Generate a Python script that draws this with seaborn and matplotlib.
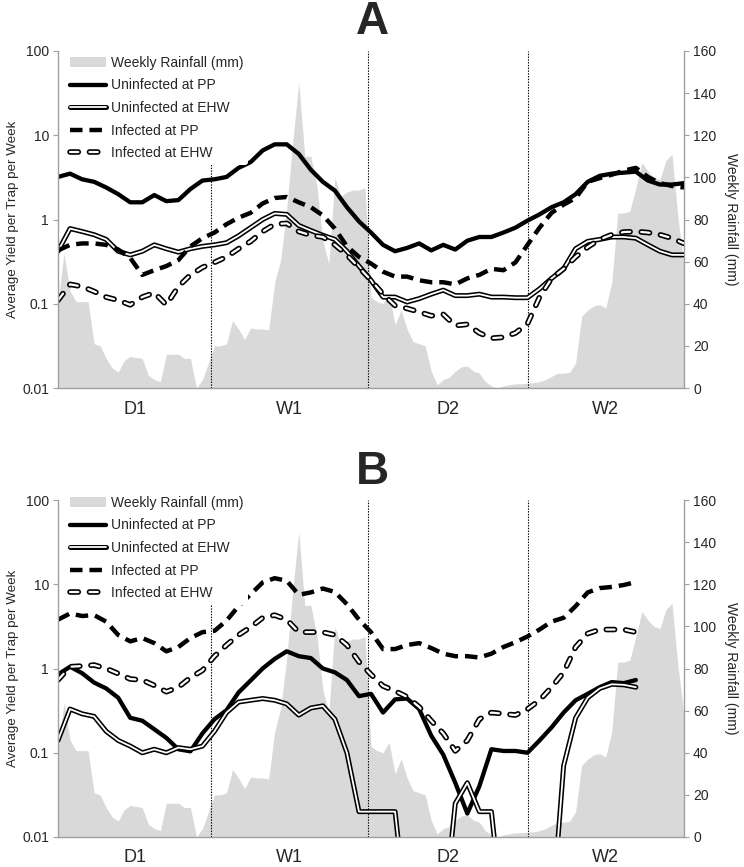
import numpy as np
import pandas as pd
import matplotlib
matplotlib.use("Agg")
import matplotlib.pyplot as plt
import matplotlib.patches as mpatches
from matplotlib.lines import Line2D
from matplotlib.ticker import NullLocator
import seaborn as sns

# weekly rainfall (mm), weeks 0..104
rain_mm = [41, 64, 46, 41, 41, 41, 21, 20, 14, 9.5,
           7.6, 13, 15, 14.5, 14, 6, 4, 3, 16, 16,
           16, 14, 14, 0, 4, 12, 20, 20, 21, 32,
           28, 23, 28.5, 28, 28, 27.6, 50, 61, 85, 117,
           145, 110, 110, 96, 70, 59, 100, 91, 93, 94,
           94, 95, 43, 41, 40, 45, 30, 37, 28, 22,
           21, 20, 8, 1.5, 4, 5, 8, 10, 10.5, 8,
           7, 3, 1, 0, 1, 1.5, 2, 2, 2.3, 2.5,
           3, 4, 5.5, 7, 7, 7.5, 12, 34, 37, 39,
           39.5, 38, 50, 83, 83, 84, 95, 107, 103, 100,
           99, 108, 111, 81, 58]

# yields, sampled every second week
a_uninf_pp = [3.2, 3.5, 3.0, 2.8, 2.4, 2.0, 1.6, 1.6, 1.95, 1.65,
              1.7, 2.3, 2.9, 3.0, 3.2, 4.1, 4.8, 6.6, 7.8, 7.8,
              6.0, 3.9, 2.8, 2.2, 1.4, 0.95, 0.7, 0.5, 0.42, 0.46,
              0.52, 0.43, 0.5, 0.44, 0.56, 0.62, 0.62, 0.7, 0.8, 0.97,
              1.15, 1.4, 1.6, 2.0, 2.8, 3.3, 3.5, 3.6, 3.7, 2.9,
              2.6, 2.6, 2.7]
a_uninf_ehw = [0.42, 0.78, 0.72, 0.66, 0.58, 0.42, 0.38, 0.42, 0.5, 0.45,
               0.41, 0.45, 0.48, 0.5, 0.53, 0.64, 0.8, 1.0, 1.18, 1.15,
               0.85, 0.74, 0.65, 0.58, 0.42, 0.28, 0.19, 0.12, 0.12, 0.105,
               0.115, 0.13, 0.145, 0.125, 0.125, 0.13, 0.12, 0.12, 0.118, 0.118,
               0.15, 0.2, 0.26, 0.45, 0.55, 0.58, 0.62, 0.62, 0.6, 0.5,
               0.42, 0.38, 0.38]
a_inf_pp = [0.43, 0.5, 0.52, 0.52, 0.5, 0.44, 0.35, 0.22, 0.25, 0.28,
            0.33, 0.48, 0.6, 0.7, 0.88, 1.05, 1.2, 1.55, 1.8, 1.85,
            1.6, 1.4, 1.12, 0.78, 0.48, 0.36, 0.3, 0.24, 0.21, 0.21,
            0.19, 0.18, 0.18, 0.17, 0.2, 0.22, 0.26, 0.25, 0.31, 0.5,
            0.8, 1.2, 1.5, 1.8, 2.8, 3.1, 3.4, 3.8, 4.1, 3.2,
            2.7, 2.5, 2.4]
a_inf_ehw = [0.11, 0.17, 0.16, 0.14, 0.12, 0.11, 0.097, 0.12, 0.135, 0.097,
             0.16, 0.22, 0.27, 0.31, 0.36, 0.45, 0.55, 0.72, 0.88, 0.9,
             0.72, 0.65, 0.62, 0.5, 0.38, 0.27, 0.19, 0.13, 0.095, 0.088,
             0.08, 0.072, 0.075, 0.055, 0.057, 0.045, 0.039, 0.04, 0.045, 0.058,
             0.12, 0.2, 0.26, 0.36, 0.47, 0.58, 0.66, 0.71, 0.72, 0.7,
             0.66, 0.6, 0.52]

b_uninf_pp = [0.85, 1.05, 0.88, 0.68, 0.58, 0.45, 0.26, 0.24, 0.19, 0.15,
              0.11, 0.104, 0.17, 0.25, 0.32, 0.52, 0.72, 1.0, 1.3, 1.6,
              1.4, 1.33, 1.0, 0.9, 0.73, 0.47, 0.5, 0.3, 0.43, 0.44,
              0.33, 0.16, 0.095, 0.044, 0.019, 0.04, 0.11, 0.105, 0.105, 0.1,
              0.14, 0.2, 0.3, 0.42, 0.5, 0.6, 0.69, 0.67, 0.73]
b_uninf_ehw = [0.14, 0.33, 0.29, 0.27, 0.18, 0.14, 0.12, 0.1, 0.11, 0.1,
               0.115, 0.11, 0.12, 0.18, 0.3, 0.4, 0.42, 0.44, 0.42, 0.38,
               0.28, 0.34, 0.36, 0.25, 0.1, 0.02, 0.02, 0.02, 0.02, 0,
               0, 0, 0, 0.025, 0.044, 0.02, 0.02, 0, 0, 0,
               0, 0, 0.07, 0.26, 0.45, 0.58, 0.65, 0.64, 0.6]
b_inf_pp = [3.8, 4.5, 4.2, 4.3, 3.6, 2.5, 2.1, 2.3, 2.0, 1.6,
            1.8, 2.3, 2.7, 2.8, 3.7, 5.5, 7.6, 10.5, 11.8, 11.0,
            7.5, 8.0, 8.9, 8.1, 5.8, 3.8, 2.7, 1.7, 1.7, 1.9,
            2.0, 1.75, 1.5, 1.4, 1.4, 1.35, 1.5, 1.8, 2.05, 2.4,
            2.9, 3.6, 4.0, 5.5, 8.0, 9.0, 9.3, 9.8, 10.6]
b_inf_ehw = [0.73, 1.05, 1.07, 1.1, 1.0, 0.87, 0.75, 0.73, 0.63, 0.53,
             0.6, 0.78, 0.95, 1.4, 1.9, 2.5, 3.1, 4.0, 4.3, 3.8,
             2.7, 2.7, 2.7, 2.5, 1.9, 1.2, 0.85, 0.62, 0.54, 0.46,
             0.35, 0.24, 0.17, 0.105, 0.14, 0.25, 0.3, 0.29, 0.28, 0.33,
             0.42, 0.6, 0.9, 1.8, 2.6, 2.9, 2.9, 2.9, 2.7]

periods = ["D1", "W1", "D2", "W2"]
period_edges = [0, 25.5, 51.5, 78, 104]

series_names = ["Uninfected at PP", "Uninfected at EHW", "Infected at PP", "Infected at EHW"]

sns.set_theme(style="white")
plt.rcParams["font.family"] = ["Liberation Sans", "DejaVu Sans"]
plt.rcParams["lines.scale_dashes"] = False

RAIN = "#D9D9D9"
SPINE = "#A0A0A0"
DASH = (0, (9, 5))
CAPSULE = (0, (6, 8))


def line_styles():
    # layers drawn for each series, bottom to top
    thick = dict(color="black", lw=3.1, solid_capstyle="round")
    outer = dict(color="black", lw=3.6, solid_capstyle="round")
    inner = dict(color="white", lw=1.3, solid_capstyle="round")
    dashed = dict(color="black", lw=3.2, linestyle=DASH, dash_capstyle="butt")
    d_outer = dict(color="black", lw=4.0, linestyle=CAPSULE, dash_capstyle="round")
    d_inner = dict(color="white", lw=1.6, linestyle=CAPSULE, dash_capstyle="round")
    return [[thick], [outer, inner], [dashed], [d_outer, d_inner]]


def draw_panel(ax, values, letter_y, letter, legend_top):
    weeks = np.arange(len(rain_mm))
    ax2 = ax.twinx()
    ax2.fill_between(weeks, rain_mm, 0, color=RAIN, lw=0)
    ax2.set_ylim(0, 160)
    ax2.set_yticks(range(0, 161, 20))
    ax.set_zorder(ax2.get_zorder() + 1)
    ax.patch.set_visible(False)

    ax.set_yscale("log")
    styles = line_styles()
    handles = [mpatches.Patch(color=RAIN, lw=0)]
    for vals, layers in zip(values, styles):
        y = np.clip(np.array(vals, dtype=float), 1e-3, None)
        x = np.arange(0, 2 * len(vals), 2)
        for kw in layers:
            sns.lineplot(x=x, y=y, ax=ax, errorbar=None, **kw)
        handles.append(tuple(Line2D([], [], **kw) for kw in layers))

    for edge in period_edges[1:-1]:
        ax.axvline(edge, color="black", lw=0.8, linestyle=(0, (1, 1)), zorder=1)

    ax.set_xlim(0, 104)
    ax.set_ylim(0.01, 100)
    ax.set_yticks([0.01, 0.1, 1, 10, 100])
    ax.set_yticklabels(["0.01", "0.1", "1", "10", "100"])
    ax.yaxis.set_minor_locator(NullLocator())
    centers = [(a + b) / 2 for a, b in zip(period_edges[:-1], period_edges[1:])]
    ax.set_xticks(centers)
    ax.set_xticklabels(periods, fontsize=13)
    ax.tick_params(axis="x", length=0, pad=9)
    ax.tick_params(axis="y", which="major", length=3.5, width=0.8, color=SPINE,
                   labelsize=10, pad=3, left=True, direction="out")
    ax2.tick_params(axis="y", length=3.5, width=0.8, color=SPINE, labelsize=10,
                    pad=3, right=True, direction="out")
    ax.set_xlabel("")
    ax.set_ylabel("Average Yield per Trap per Week", fontsize=9.6)
    ax.yaxis.set_label_coords(-0.063, 0.5)
    ax2.set_ylabel("Weekly Rainfall (mm)", fontsize=10, rotation=270, va="bottom")
    ax2.yaxis.set_label_coords(1.064, 0.5)

    for name, sp in ax.spines.items():
        sp.set_visible(name in ("left", "bottom"))
        sp.set_color(SPINE)
        sp.set_linewidth(1.0)
    for name, sp in ax2.spines.items():
        sp.set_visible(name == "right")
        sp.set_color(SPINE)
        sp.set_linewidth(1.0)

    leg = ax.legend(handles, ["Weekly Rainfall (mm)"] + series_names,
                    loc="upper left", bbox_to_anchor=(0.012, legend_top),
                    borderaxespad=0, frameon=True, fontsize=10,
                    handlelength=2.6, handletextpad=0.3, labelspacing=0.62,
                    borderpad=0.35)
    leg.get_frame().set_facecolor("white")
    leg.get_frame().set_edgecolor("none")
    leg.get_frame().set_alpha(1)
    leg.set_zorder(5)

    ax.figure.text(0.5, letter_y, letter, fontsize=33, fontweight="bold",
                   ha="center", va="center")


fig = plt.figure(figsize=(7.44, 8.67), dpi=100)
ax_a = fig.add_axes([58 / 744, 1 - 388 / 867, 626 / 744, 337 / 867])
ax_b = fig.add_axes([58 / 744, 1 - 837 / 867, 626 / 744, 337 / 867])

draw_panel(ax_a, [a_uninf_pp, a_uninf_ehw, a_inf_pp, a_inf_ehw], 1 - 22 / 867, "A", 1.0)
draw_panel(ax_b, [b_uninf_pp, b_uninf_ehw, b_inf_pp, b_inf_ehw], 1 - 472 / 867, "B", 1.027)

fig.savefig("out.png", dpi=100)
